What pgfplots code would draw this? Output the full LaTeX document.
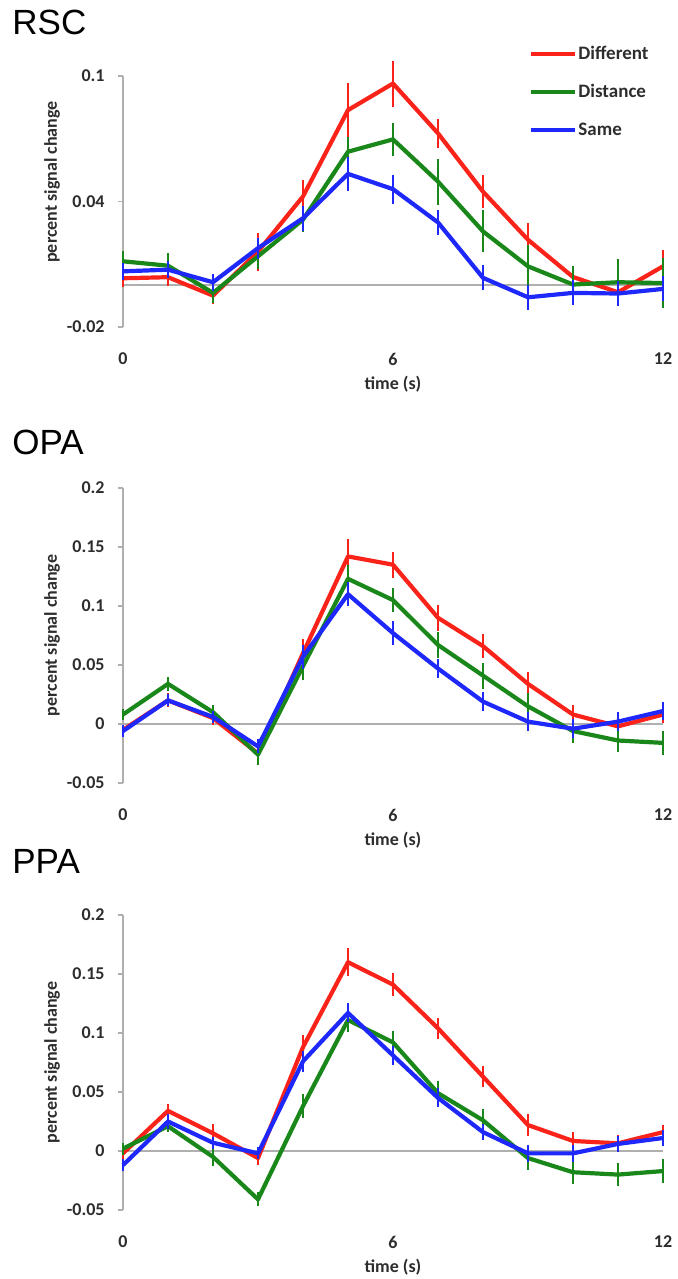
\documentclass[border=0pt]{standalone}
\usepackage{fontspec}
\setmainfont{Carlito}
\newfontfamily\titlefont{Liberation Sans}
\usepackage{pgfplots}
\usepackage{pgfplotstable}
\pgfplotsset{compat=1.18}

\definecolor{cdif}{RGB}{250,35,25}
\definecolor{cdis}{RGB}{25,135,25}
\definecolor{csam}{RGB}{30,40,250}
\definecolor{ctext}{RGB}{45,45,45}
\definecolor{caxis}{RGB}{175,175,175}

% t, Different, err, Distance, err, Same, err
\pgfplotstableread{
t dif dife dis dise sam same
0 0.0033 0.004 0.0114 0.005 0.0066 0.004
1 0.0038 0.004 0.0093 0.006 0.0074 0.004
2 -0.0050 0.004 -0.0037 0.005 0.0014 0.004
3 0.0160 0.009 0.0138 0.006 0.0177 0.005
4 0.0424 0.008 0.0313 0.006 0.0320 0.006
5 0.0837 0.013 0.0638 0.007 0.0532 0.008
6 0.0964 0.011 0.0697 0.008 0.0459 0.007
7 0.0726 0.007 0.0495 0.011 0.0300 0.006
8 0.0447 0.008 0.0257 0.010 0.0035 0.006
9 0.0217 0.008 0.0090 0.010 -0.0058 0.006
10 0.0039 0.005 0.0003 0.009 -0.0037 0.006
11 -0.0034 0.004 0.0014 0.011 -0.0040 0.006
12 0.0090 0.008 0.0010 0.012 -0.0018 0.006
}\rsc

\pgfplotstableread{
t dif dife dis dise sam same
0 -0.005 0.004 0.008 0.005 -0.006 0.005
1 0.020 0.006 0.034 0.006 0.020 0.005
2 0.005 0.006 0.010 0.006 0.006 0.005
3 -0.025 0.008 -0.026 0.009 -0.019 0.006
4 0.060 0.012 0.049 0.012 0.057 0.010
5 0.142 0.015 0.123 0.012 0.110 0.010
6 0.135 0.011 0.105 0.010 0.077 0.010
7 0.090 0.011 0.067 0.011 0.047 0.008
8 0.066 0.010 0.041 0.011 0.019 0.008
9 0.034 0.010 0.015 0.011 0.002 0.008
10 0.008 0.008 -0.006 0.010 -0.004 0.008
11 -0.002 0.006 -0.014 0.010 0.002 0.008
12 0.008 0.007 -0.016 0.010 0.011 0.008
}\opa

\pgfplotstableread{
t dif dife dis dise sam same
0 -0.002 0.005 0.002 0.005 -0.012 0.005
1 0.034 0.006 0.021 0.005 0.025 0.006
2 0.015 0.008 -0.005 0.008 0.007 0.005
3 -0.006 0.006 -0.041 0.006 -0.002 0.005
4 0.088 0.010 0.038 0.010 0.076 0.009
5 0.160 0.012 0.111 0.010 0.117 0.008
6 0.141 0.010 0.092 0.010 0.081 0.008
7 0.104 0.009 0.049 0.010 0.045 0.008
8 0.063 0.009 0.026 0.010 0.016 0.007
9 0.022 0.009 -0.006 0.010 -0.002 0.007
10 0.0085 0.008 -0.018 0.010 -0.002 0.007
11 0.0065 0.007 -0.020 0.010 0.006 0.007
12 0.016 0.006 -0.017 0.010 0.011 0.007
}\ppa

\pgfplotsset{
  panel/.style={
    scale only axis, width=270pt,
    xmin=0, xmax=12,
    xtick={0,6,12}, xticklabels={0,6,12},
    axis x line*=bottom, axis y line*=left,
    x axis line style={draw=none},
    y axis line style={draw=caxis, line width=0.8pt, -},
    tick align=outside, major tick length=2.5pt,
    xtick style={draw=none},
    ytick style={draw=caxis, line width=0.8pt},
    ticklabel style={font=\bfseries\fontsize{9}{10}\selectfont, text=ctext},
    xticklabel style={anchor=center, yshift=-13.5pt},
    yticklabel style={anchor=east, inner sep=0pt, xshift=-6.5pt},
    label style={font=\bfseries\fontsize{9}{10}\selectfont, text=ctext},
    xlabel={time (s)}, ylabel={percent signal change},
    clip=false,
  },
  dif/.style={draw=cdif, line width=2.1pt, line join=round, no marks,
    error bars/.cd, y dir=both, y explicit, error mark=none,
    error bar style={draw=cdif, line width=0.7pt}},
  dis/.style={draw=cdis, line width=2.1pt, line join=round, no marks,
    error bars/.cd, y dir=both, y explicit, error mark=none,
    error bar style={draw=cdis, line width=0.7pt}},
  sam/.style={draw=csam, line width=2.1pt, line join=round, no marks,
    error bars/.cd, y dir=both, y explicit, error mark=none,
    error bar style={draw=csam, line width=0.7pt}},
}

\begin{document}
\begin{tikzpicture}
\useasboundingbox (0,0) rectangle (338.5pt,639.5pt);

% RSC
\begin{axis}[panel, at={(61.5pt,476pt)}, anchor=south west, height=125.5pt,
  ymin=-0.02, ymax=0.1, ytick={-0.02,0.04,0.1}, yticklabels={-0.02,0.04,0.1},
  xlabel style={at={(axis description cs:0.5,-0.227)}, anchor=center},
  ylabel style={at={(axis description cs:-0.1315,0.578)}, anchor=center},
  legend style={at={(axis description cs:0.752,0.936)}, anchor=west,
    draw=none, fill=none, inner sep=0pt, row sep=10pt,
    font=\bfseries\fontsize{9.5}{10}\selectfont, text=ctext,
    nodes={inner xsep=0.5pt, inner ysep=0pt, text height=7pt, text depth=2pt}},
  legend cell align=left,
  legend image code/.code={\draw[#1, line width=2pt] (0pt,0pt) -- (22pt,0pt);},
]
\addplot[forget plot, draw=caxis, line width=0.8pt] coordinates {(0,0) (12,0)};
\addplot[dif] table[x=t, y=dif, y error=dife]{\rsc};
\addplot[dis] table[x=t, y=dis, y error=dise]{\rsc};
\addplot[sam] table[x=t, y=sam, y error=same]{\rsc};
\legend{Different,Distance,Same}
\end{axis}

% OPA
\begin{axis}[panel, at={(61.5pt,248pt)}, anchor=south west, height=147.5pt,
  ymin=-0.05, ymax=0.2, ytick={-0.05,0,0.05,0.1,0.15,0.2},
  yticklabels={-0.05,0,0.05,0.1,0.15,0.2},
  xlabel style={at={(axis description cs:0.5,-0.193)}, anchor=center},
  ylabel style={at={(axis description cs:-0.1315,0.5)}, anchor=center},
]
\addplot[draw=caxis, line width=0.8pt] coordinates {(0,0) (12,0)};
\addplot[dif] table[x=t, y=dif, y error=dife]{\opa};
\addplot[dis] table[x=t, y=dis, y error=dise]{\opa};
\addplot[sam] table[x=t, y=sam, y error=same]{\opa};
\end{axis}

% PPA
\begin{axis}[panel, at={(61.5pt,34.5pt)}, anchor=south west, height=147.5pt,
  ymin=-0.05, ymax=0.2, ytick={-0.05,0,0.05,0.1,0.15,0.2},
  yticklabels={-0.05,0,0.05,0.1,0.15,0.2},
  xlabel style={at={(axis description cs:0.5,-0.193)}, anchor=center},
  ylabel style={at={(axis description cs:-0.1315,0.5)}, anchor=center},
]
\addplot[draw=caxis, line width=0.8pt] coordinates {(0,0) (12,0)};
\addplot[dif] table[x=t, y=dif, y error=dife]{\ppa};
\addplot[dis] table[x=t, y=dis, y error=dise]{\ppa};
\addplot[sam] table[x=t, y=sam, y error=same]{\ppa};
\end{axis}

\node[anchor=base west, inner sep=0pt, font=\titlefont\fontsize{17.5}{20}\selectfont] at (6pt,622pt) {RSC};
\node[anchor=base west, inner sep=0pt, font=\titlefont\fontsize{17.5}{20}\selectfont] at (6pt,412pt) {OPA};
\node[anchor=base west, inner sep=0pt, font=\titlefont\fontsize{17.5}{20}\selectfont] at (6pt,202.5pt) {PPA};
\end{tikzpicture}
\end{document}
